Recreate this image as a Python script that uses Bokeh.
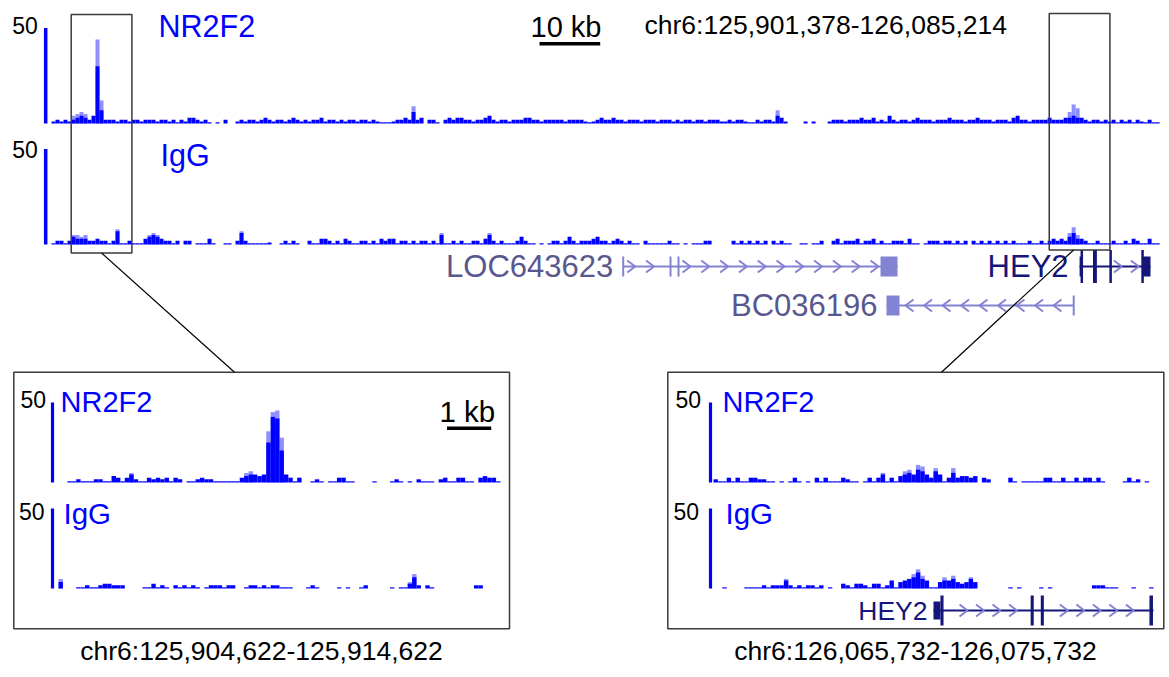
from bokeh.plotting import figure
from bokeh.models import Range1d
from bokeh.core.properties import value
from bokeh.embed import file_html
from bokeh.resources import INLINE

# ------------------------------------------------------------------ data
CHROM = "chr6"
main_region = (125901378, 126085214)
left_region = (125904622, 125914622)
right_region = (126065732, 126075732)
track_labels = ["NR2F2", "IgG"]
scale_max = 50
main_scale_bp = 10000
inset_scale_bp = 1000
main_bin_bp = 659
inset_bin_bp = 100

# signal per bin (0 = no data)
main_nr2f2 = [
    1, 2, 1, 2, 1, 2, 3, 4, 3, 2, 4, 30, 7, 2, 2, 2, 1, 2, 2, 1, 2, 2, 1, 2, 2,
    2, 1, 2, 2, 1, 2, 0.5, 2, 1, 3, 3, 2, 1, 2, 0.5, 0, 0.5, 0, 2, 0, 0, 1, 2, 1, 2,
    2, 1, 2, 3, 2, 1, 2, 2, 1, 2, 3, 2, 1, 2, 1, 2, 2, 3, 1, 2, 2, 1, 2, 1, 2,
    2, 1, 2, 2, 1, 2, 1, 0.5, 0.5, 0.5, 1, 2, 2, 3, 2, 6, 2, 3, 0, 2, 2, 0.5, 0, 2, 3,
    2, 3, 3, 2, 2, 1, 2, 2, 3, 4, 2, 1, 2, 2, 1, 2, 2, 2, 3, 3, 2, 2, 1, 2, 2,
    2, 2, 2, 1, 2, 2, 2, 2, 1, 0.5, 1, 2, 3, 2, 2, 3, 2, 2, 1, 2, 2, 2, 1, 2, 2,
    2, 1, 2, 2, 2, 1, 2, 1, 2, 2, 1, 2, 2, 1, 2, 2, 2, 1, 1, 2, 1, 2, 2, 1, 0.5,
    0.5, 2, 1, 2, 2, 1, 4, 3, 1, 0, 0, 0, 0, 1, 0, 1, 0, 0, 0, 1, 2, 2, 2, 1, 2,
    2, 2, 3, 2, 2, 3, 1, 2, 1, 4, 2, 1, 2, 2, 1, 2, 3, 2, 2, 2, 1, 2, 2, 2, 3,
    2, 2, 2, 1, 2, 2, 3, 2, 2, 2, 1, 2, 2, 2, 1, 3, 4, 2, 2, 1, 2, 2, 2, 2, 3,
    2, 2, 2, 3, 3, 4, 3, 3, 2, 1, 2, 2, 1, 2, 1, 2, 0.5, 2, 1, 2, 0.5, 2, 1, 0.5, 2,
    0.5, 0.5]
main_nr2f2_max_bins = [5, 6, 7, 8, 11, 12, 90, 181, 254, 255, 256]
main_nr2f2_max_vals = [4, 5, 6, 5, 44, 12, 9, 7, 6, 10, 8]

main_igg = [
    0.5, 2, 2, 0.5, 2, 4, 3, 3, 3, 2, 2, 3, 2, 2, 0.5, 2, 7, 0.5, 0.5, 2, 0.5, 0.5, 0.5, 3, 4,
    5, 4, 3, 2, 2, 0.5, 2, 0, 2, 2, 0, 0.5, 0.5, 0.5, 3, 0.5, 0, 0, 0.5, 0.5, 0, 2, 6, 2, 0.5,
    0.5, 0.5, 0.5, 0.5, 1, 0, 0, 0.5, 2, 0.5, 2, 0.5, 0, 0, 2, 0.5, 0.5, 3, 3, 2, 0.5, 2, 0.5, 3, 2,
    0.5, 0.5, 2, 2, 0.5, 2, 0.5, 3, 2, 3, 3, 0.5, 2, 2, 0.5, 2, 0.5, 2, 2, 0.5, 2, 0.5, 5, 0.5, 0.5,
    2, 0.5, 2, 0.5, 0.5, 2, 2, 0.5, 3, 5, 2, 0.5, 2, 0.5, 0.5, 0.5, 2, 4, 2, 0.5, 0.5, 0, 0.5, 0, 0.5,
    2, 2, 0.5, 2, 4, 2, 0.5, 2, 2, 2, 3, 4, 2, 2, 0.5, 2, 3, 2, 0.5, 2, 0.5, 0.5, 0, 2, 0.5,
    0.5, 0.5, 0.5, 0.5, 2, 0.5, 0.5, 0, 0.5, 0, 0.5, 0.5, 0.5, 2, 2, 0, 0, 0, 0, 0, 2, 0.5, 2, 0.5, 2,
    0.5, 2, 0.5, 2, 0, 2, 0.5, 2, 0.5, 0.5, 0, 0, 0.5, 0.5, 0, 0.5, 0.5, 2, 0, 0, 2, 3, 0.5, 2, 2,
    2, 3, 0.5, 2, 2, 3, 0.5, 2, 0.5, 0.5, 2, 2, 2, 0.5, 3, 0.5, 0.5, 0, 0.5, 2, 2, 2, 0.5, 2, 2,
    0.5, 2, 0.5, 2, 0, 2, 0.5, 2, 0.5, 2, 0.5, 2, 0.5, 2, 0.5, 2, 0.5, 0.5, 0.5, 2, 0.5, 0.5, 2, 0.5, 2,
    3, 2, 3, 2, 4, 6, 3, 3, 2, 0.5, 0.5, 2, 0.5, 0.5, 0.5, 2, 0.5, 0.5, 2, 0.5, 3, 2, 0.5, 0.5, 3,
    0.5, 0.5]
main_igg_max_bins = [5, 6, 7, 8, 16, 24, 25, 26, 47, 97, 109, 254, 255, 256]
main_igg_max_vals = [5, 5, 4, 5, 8, 5, 6, 5, 7, 6, 6, 6, 9, 5]

left_nr2f2 = [
    0, 0, 0.5, 0.5, 2, 0.5, 0.5, 0.5, 2, 2, 0.5, 0.5, 4, 3, 0.5, 3, 5, 2, 0.5, 0.5, 3, 2, 3, 2, 3,
    0.5, 3, 2, 0, 0.5, 0.5, 2, 3, 2, 2, 0.5, 0.5, 0.5, 0.5, 0.5, 0.5, 3, 4, 5, 5, 4, 5, 25, 41, 40,
    20, 5, 3, 0.5, 3, 0, 0, 0.5, 2, 0.5, 0, 0.5, 0.5, 3, 3, 0.5, 0.5, 0, 0, 0, 0, 0.5, 0, 0, 0,
    0.5, 2, 0.5, 0, 0.5, 0, 2, 0.5, 0.5, 0.5, 0, 2, 3, 0.5, 0.5, 3, 3, 0.5, 0.5, 0, 3, 4, 3, 3, 0.5]
left_nr2f2_max_bins = [16, 42, 43, 47, 48, 49, 50]
left_nr2f2_max_vals = [6, 6, 7, 32, 44, 45, 28]

left_igg = [
    4, 0, 0, 0, 0.5, 0.5, 2, 0.5, 0.5, 2, 3, 3, 2, 2, 2, 0, 0, 0, 0, 0.5, 0.5, 3, 0.5, 2, 0.5,
    0, 2, 0.5, 2, 0.5, 2, 0.5, 0, 0.5, 2, 2, 2, 0.5, 2, 2, 0, 0, 0.5, 2, 2, 0.5, 2, 0.5, 2, 2,
    0.5, 0.5, 0.5, 0, 0, 0, 0.5, 2, 0.5, 0, 0, 0, 0, 0.5, 0, 0.5, 0, 0, 0.5, 2, 0, 0, 0, 0, 0,
    0.5, 0, 0.5, 0.5, 3, 7, 2, 0, 2, 0.5, 0, 0, 0, 0, 0, 0, 0, 0, 0, 2, 2, 0, 0, 0, 0]
left_igg_max_bins = [0, 79, 80]
left_igg_max_vals = [6, 4, 9]

right_nr2f2 = [
    2, 0.5, 0.5, 3, 0.5, 3, 0.5, 0.5, 3, 3, 2, 2, 0.5, 0.5, 0, 0.5, 0, 0.5, 3, 0.5, 0, 0.5, 0, 3, 0.5,
    3, 0.5, 0.5, 0.5, 3, 2, 0.5, 0.5, 0, 0.5, 3, 0.5, 3, 5, 0.5, 3, 0.5, 4, 5, 6, 5, 8, 7, 5, 3,
    7, 5, 0.5, 3, 6, 3, 4, 4, 3, 4, 0, 3, 2, 0, 0, 0, 0, 3, 0.5, 0, 0.5, 0.5, 0.5, 0.5, 0.5,
    3, 3, 0.5, 0.5, 3, 0.5, 0.5, 3, 0.5, 3, 3, 0.5, 3, 0.5, 0, 0, 0, 0, 0.5, 3, 0.5, 2, 0, 0.5, 0]
right_nr2f2_max_bins = [38, 43, 44, 46, 47, 50, 54]
right_nr2f2_max_vals = [6, 7, 8, 11, 10, 9, 9]

right_igg = [
    0, 0, 0.5, 0, 0, 0, 0, 0.5, 0.5, 0.5, 0.5, 2, 0.5, 2, 2, 2, 5, 2, 0.5, 2, 0.5, 2, 2, 0.5, 2,
    0, 0.5, 0, 0, 3, 2, 0.5, 3, 3, 2, 0.5, 3, 3, 0.5, 2, 5, 0.5, 4, 5, 6, 7, 10, 6, 5, 0.5,
    0.5, 4, 5, 5, 6, 4, 3, 4, 6, 4, 0, 0, 0, 0, 0, 0, 0, 0.5, 0, 0.5, 0, 0, 0, 0, 0.5,
    0, 0.5, 0, 0, 0, 0, 0, 0, 0, 0, 0, 2, 2, 2, 0.5, 0.5, 0.5, 0, 0, 0, 0.5, 0, 0, 0, 0.5]
right_igg_max_bins = [16, 45, 46, 47, 52, 54, 58]
right_igg_max_vals = [6, 9, 12, 8, 7, 8, 7]

# genes (genomic coordinates)
loc643623_starts = [125995390, 126003181, 126004499, 126037939]
loc643623_ends = [125995700, 126003420, 126004740, 126040740]
bc036196_starts = [126038928, 126069600]
bc036196_ends = [126041069, 126069800]
hey2_starts = [126070732, 126072940, 126073170, 126075640, 126080900]
hey2_ends = [126070960, 126073010, 126073240, 126075720, 126082415]
hey2_cds = (126070890, 126081150)

# ------------------------------------------------------------------ style
FONT = value("Liberation Sans")
BLUE = "#0000ff"
LIGHT_BLUE = "#8f8fff"
GENE_LIGHT = "#8383d3"
GENE_LIGHT_LABEL = "#58588f"
GENE_DARK = "#15157a"
BOX = "#3a3a3a"
TEXT_SHIFT = 0.35  # compensates the renderer's baseline placement

W, H = 1166, 674
MAIN_X0, MAIN_W = 51.0, 1116.0
MAIN_BASE = {"NR2F2": 123.0, "IgG": 244.0}
MAIN_PPU = 1.91
LEFT_X0, LEFT_W = 58.0, 442.0
RIGHT_X0, RIGHT_W = 713.0, 440.0
INSET_BASE = {"NR2F2": 482.0, "IgG": 588.0}
INSET_PPU = 1.6

p = figure(width=W, height=H, x_range=Range1d(0, W), y_range=Range1d(0, H),
           output_backend="svg", toolbar_location=None, min_border=0,
           x_axis_type=None, y_axis_type=None)
p.grid.visible = False
p.outline_line_color = None
p.background_fill_color = "white"
p.border_fill_color = "white"


def Y(y):
    # screen-like vertical position (from top) -> plot coordinate
    return H - y


def xmapper(region, x0, w):
    span = float(region[1] - region[0])
    return lambda g: x0 + (g - region[0]) / span * w


main_x = xmapper(main_region, MAIN_X0, MAIN_W)
left_x = xmapper(left_region, LEFT_X0, LEFT_W)
right_x = xmapper(right_region, RIGHT_X0, RIGHT_W)


def draw_signal(vals, mbins, mvals, start, bin_bp, xm, base, ppu):
    for bins, vv, col in ((mbins, mvals, LIGHT_BLUE), (range(len(vals)), vals, BLUE)):
        L, R, T, B = [], [], [], []
        for i, v in zip(bins, vv):
            if v <= 0:
                continue
            g0 = start + i * bin_bp
            L.append(xm(g0))
            R.append(xm(g0 + bin_bp))
            B.append(Y(base))
            T.append(Y(base - max(v * ppu, 1.2)))
        p.quad(left=L, right=R, top=T, bottom=B, fill_color=col, line_color=None)


def scale_bar(xc, base, ppu, w=3.5):
    p.quad(left=[xc - w / 2], right=[xc + w / 2], top=[Y(base - scale_max * ppu)],
           bottom=[Y(base)], fill_color=BLUE, line_color=None)


def label(x, y, txt, size, color="black", align="left"):
    fs = float(size.replace("px", ""))
    p.text(x=[x], y=[Y(y - TEXT_SHIFT * fs)], text=[txt], text_font=FONT, text_font_size=size,
           text_color=color, text_align=align, text_baseline="alphabetic")


def hline(x0, x1, y, color="black", width=1.0):
    p.line([x0, x1], [Y(y), Y(y)], line_color=color, line_width=width)


def draw_gene(starts, ends, cds, xm, y, color, chev_color, strand, h_utr, h_cds,
              min_w, spacing, offset, clip=None, hw=4.0, hh=6.0, min_intron=16):
    segs = []
    for s, e in zip(starts, ends):
        if clip is not None:
            if s >= clip[1] or e <= clip[0]:
                continue
            s, e = max(s, clip[0]), min(e, clip[1])
        segs.append((s, e))
    lo = min(s for s, e in segs)
    hi = max(e for s, e in segs)
    if clip is not None and max(ends) > clip[1]:
        hi = clip[1]
    hline(xm(lo), xm(hi), y, color, 2)
    # chevrons along introns
    cx, cy = [], []
    bounds = [(xm(s), max(xm(e), xm(s) + min_w)) for s, e in segs]
    if hi > segs[-1][1]:
        bounds.append((xm(hi), xm(hi)))
    for (a0, a1), (b0, b1) in zip(bounds[:-1], bounds[1:]):
        if b0 - a1 < min_intron:
            continue
        x = a1 + offset
        while x < b0 - 5:
            if strand == "+":
                cx.append([x - hw, x + hw, x - hw])
            else:
                cx.append([x + hw, x - hw, x + hw])
            cy.append([Y(y - hh), Y(y), Y(y + hh)])
            x += spacing
    p.multi_line(xs=cx, ys=cy, line_color=chev_color, line_width=2)
    # exons (UTR thinner than CDS)
    L, R, T, B = [], [], [], []
    for s, e in segs:
        parts = [(s, e, h_utr)]
        if cds is not None:
            parts = []
            cuts = sorted(set([s, e] + [c for c in cds if s < c < e]))
            for a, b in zip(cuts[:-1], cuts[1:]):
                h = h_cds if (a >= cds[0] and b <= cds[1]) else h_utr
                parts.append((a, b, h))
        for a, b, h in parts:
            x0, x1 = xm(a), xm(b)
            if x1 - x0 < min_w:
                x1 = x0 + min_w
            L.append(x0); R.append(x1); T.append(Y(y - h)); B.append(Y(y + h))
    p.quad(left=L, right=R, top=T, bottom=B, fill_color=color, line_color=None)
    return xm(lo)


def box(x0, x1, y0, y1, color=BOX, width=1.5):
    p.quad(left=[x0], right=[x1], top=[Y(y0)], bottom=[Y(y1)],
           fill_color=None, line_color=color, line_width=width)


# ------------------------------------------------------------------ main view
draw_signal(main_nr2f2, main_nr2f2_max_bins, main_nr2f2_max_vals, main_region[0],
            main_bin_bp, main_x, MAIN_BASE["NR2F2"], MAIN_PPU)
draw_signal(main_igg, main_igg_max_bins, main_igg_max_vals, main_region[0],
            main_bin_bp, main_x, MAIN_BASE["IgG"], MAIN_PPU)
scale_bar(45.2, MAIN_BASE["NR2F2"], MAIN_PPU)
scale_bar(45.2, MAIN_BASE["IgG"], MAIN_PPU)
label(11.7, 33.5, str(scale_max), "23px")
label(11.7, 157, str(scale_max), "23px")
label(158, 36.5, track_labels[0], "30.5px", BLUE)
label(160, 165, track_labels[1], "30.5px", BLUE)

# 10 kb scale
label(530, 36.5, "10 kb", "29px")
sb0 = 539.0
sb1 = sb0 + main_x(main_region[0] + main_scale_bp) - main_x(main_region[0])
hline(sb0, sb1, 43.3, "black", 3.5)
label(644, 33.5, f"{CHROM}:{main_region[0]:,}-{main_region[1]:,}", "26.5px")

# genes in main view
gx = draw_gene(loc643623_starts, loc643623_ends, None, main_x, 266, GENE_LIGHT, GENE_LIGHT,
               "+", 10, 10, 2.0, 18.8, 7)
label(gx - 9, 277, "LOC643623", "31px", GENE_LIGHT_LABEL, "right")
gx = draw_gene(bc036196_starts, bc036196_ends, None, main_x, 305, GENE_LIGHT, GENE_LIGHT,
               "-", 10, 10, 2.0, 18.5, 10)
label(gx - 9, 315.5, "BC036196", "31px", GENE_LIGHT_LABEL, "right")
gx = draw_gene(hey2_starts, hey2_ends, hey2_cds, main_x, 266, GENE_DARK, GENE_LIGHT,
               "+", 10, 16.5, 2.5, 17, 6)
label(gx - 11, 277, "HEY2", "31px", GENE_DARK, "right")

# zoom boxes in main view
lb0, lb1 = main_x(left_region[0]), main_x(left_region[1])
rb0, rb1 = main_x(right_region[0]), main_x(right_region[1])
box(lb0, lb1, 14, 252.5)
box(rb0, rb1, 13, 249.5)

# ------------------------------------------------------------------ insets
box(13.3, 509, 371.7, 628.3)
box(667.3, 1163.3, 371.7, 628.3)
p.line([(lb0 + lb1) / 2, 234], [Y(252.5), Y(371.7)], line_color="black", line_width=1.2)
p.line([(rb0 + rb1) / 2 - 6, 941], [Y(249.5), Y(371.7)], line_color="black", line_width=1.2)

# left inset
draw_signal(left_nr2f2, left_nr2f2_max_bins, left_nr2f2_max_vals, left_region[0],
            inset_bin_bp, left_x, INSET_BASE["NR2F2"], INSET_PPU)
draw_signal(left_igg, left_igg_max_bins, left_igg_max_vals, left_region[0],
            inset_bin_bp, left_x, INSET_BASE["IgG"], INSET_PPU)
scale_bar(52, INSET_BASE["NR2F2"], INSET_PPU, 3.2)
scale_bar(52, INSET_BASE["IgG"], INSET_PPU, 3.2)
label(20, 407, str(scale_max), "23px")
label(18.5, 519, str(scale_max), "23px")
label(60, 411.5, track_labels[0], "29px", BLUE)
label(63, 523, track_labels[1], "29.5px", BLUE)
label(439, 421.5, "1 kb", "29.5px")
kb0 = 446.5
kb1 = kb0 + left_x(left_region[0] + inset_scale_bp) - left_x(left_region[0])
hline(kb0, kb1, 427.7, "black", 3.5)
label(261, 660, f"{CHROM}:{left_region[0]:,}-{left_region[1]:,}", "26.5px", "black", "center")

# right inset
draw_signal(right_nr2f2, right_nr2f2_max_bins, right_nr2f2_max_vals, right_region[0],
            inset_bin_bp, right_x, INSET_BASE["NR2F2"], INSET_PPU)
draw_signal(right_igg, right_igg_max_bins, right_igg_max_vals, right_region[0],
            inset_bin_bp, right_x, INSET_BASE["IgG"], INSET_PPU)
scale_bar(710, INSET_BASE["NR2F2"], INSET_PPU, 3.2)
scale_bar(710, INSET_BASE["IgG"], INSET_PPU, 3.2)
label(675, 407, str(scale_max), "23px")
label(673, 519, str(scale_max), "23px")
label(722, 412, track_labels[0], "29px", BLUE)
label(725, 523, track_labels[1], "29.5px", BLUE)
gx = draw_gene(hey2_starts, hey2_ends, hey2_cds, right_x, 610, GENE_DARK, GENE_LIGHT,
               "+", 9, 15, 3.0, 16.5, 20, clip=right_region)
label(gx - 6, 620, "HEY2", "26.5px", GENE_DARK, "right")
label(915, 660, f"{CHROM}:{right_region[0]:,}-{right_region[1]:,}", "26.5px", "black", "center")

open("out.html", "w").write(file_html(p, INLINE))
